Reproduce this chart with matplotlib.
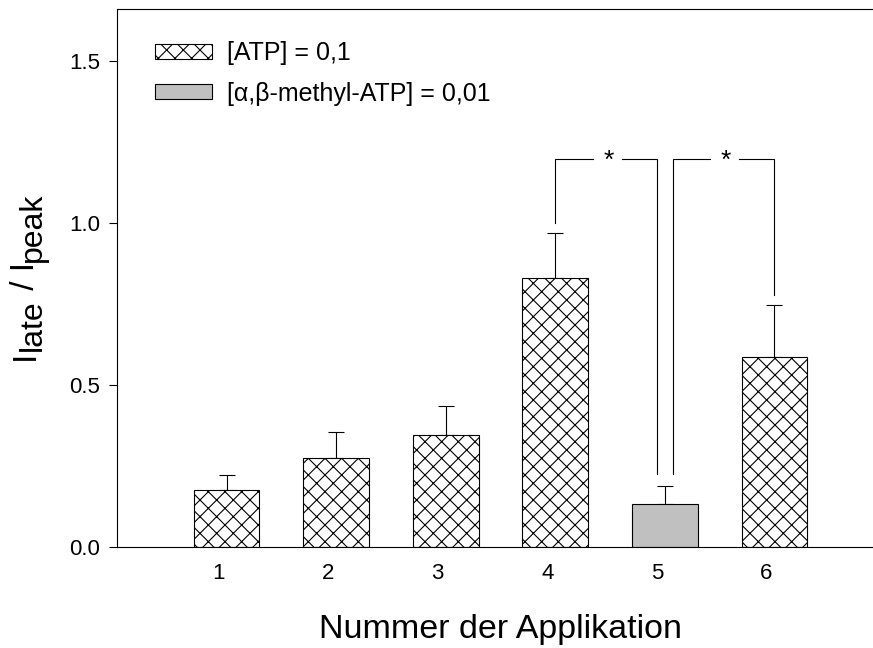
import matplotlib
matplotlib.use("Agg")
import matplotlib.pyplot as plt
import matplotlib.transforms as mtransforms
from matplotlib.patches import Patch

plt.rcParams['font.family'] = ['Liberation Sans', 'DejaVu Sans']
plt.rcParams['hatch.linewidth'] = 0.8

# mean and SEM per application
applikation = [1, 2, 3, 4, 5, 6]
mittelwert = [0.174, 0.274, 0.345, 0.830, 0.132, 0.586]
fehler = [0.047, 0.079, 0.088, 0.137, 0.056, 0.161]
agonist = ['ATP', 'ATP', 'ATP', 'ATP', 'ab', 'ATP']

# significance brackets: (x left, x right, y left leg end, y right leg end)
brackets = [(4.0, 4.93, 1.0, 0.223), (5.07, 6.0, 0.223, 0.777)]
bracket_top = 1.197

W, H, DPI = 873, 648, 100
fig = plt.figure(figsize=(W / DPI, H / DPI), dpi=DPI)
ax = fig.add_axes([0.134, 0.1563, 0.8786, 0.8298])

for x, m, e, a in zip(applikation, mittelwert, fehler, agonist):
    if a == 'ATP':
        ax.bar(x, m, width=0.6, facecolor='white', edgecolor='black',
               hatch='xx', linewidth=0.8, zorder=2)
    else:
        ax.bar(x, m, width=0.6, facecolor='#c0c0c0', edgecolor='black',
               linewidth=0.8, zorder=2)
    ax.errorbar(x, m, yerr=[[0], [e]], fmt='none', ecolor='black',
                elinewidth=0.8, capsize=5.8, capthick=0.8, zorder=1)

# brackets with a gap for the asterisk
for xl, xr, yl, yr in brackets:
    xm = (xl + xr) / 2
    ax.plot([xl, xl, xm - 0.12], [yl, bracket_top, bracket_top],
            color='black', lw=0.8, solid_joinstyle='miter')
    ax.plot([xm + 0.14, xr, xr], [bracket_top, bracket_top, yr],
            color='black', lw=0.8, solid_joinstyle='miter')
    ax.text(xm + 0.02, bracket_top - 0.006, '*', ha='center', va='center',
            fontsize=19)

ax.set_xlim(0, 7)
ax.set_ylim(0, 1.66)
ax.set_xticks(applikation)
ax.set_xticklabels([str(a) for a in applikation])
ax.set_yticks([0, 0.5, 1.0, 1.5])
ax.set_yticklabels(['0.0', '0.5', '1.0', '1.5'])
ax.tick_params(axis='x', length=0, pad=12, labelsize=16)
ax.tick_params(axis='y', direction='out', length=6, width=0.8, pad=6,
               labelsize=16)
shift = mtransforms.ScaledTranslation(-0.08, 0, fig.dpi_scale_trans)
for lab in ax.get_xticklabels():
    lab.set_transform(lab.get_transform() + shift)

ax.spines['right'].set_visible(False)
for s in ['left', 'bottom', 'top']:
    ax.spines[s].set_linewidth(0.8)

ax.set_xlabel('Nummer der Applikation', fontsize=24.5, labelpad=21)

# y label built from pieces so the subscripts keep nearly full size
renderer = fig.canvas.get_renderer()
pieces = [('I', 24, 0), ('late', 23, 7), (' / I', 24, 0), ('peak', 23, 7)]
base_x, pos_y = 34, H - 360
for s, size, dx in pieces:
    t = fig.text((base_x + dx) / W, pos_y / H, s, fontsize=size,
                 rotation=90, rotation_mode='anchor', ha='left',
                 va='baseline')
    pos_y = t.get_window_extent(renderer).y1

handles = [Patch(facecolor='white', edgecolor='black', hatch='xx', linewidth=0.8),
           Patch(facecolor='#c0c0c0', edgecolor='black', linewidth=0.8)]
ax.legend(handles, ['[ATP] = 0,1', '[\u03b1,\u03b2-methyl-ATP] = 0,01'],
          loc='upper left', bbox_to_anchor=(0.05, 0.94), frameon=False,
          borderpad=0, borderaxespad=0, fontsize=18, handlelength=2.28,
          handleheight=0.52, handletextpad=0.6, labelspacing=0.65)

fig.savefig('out.png', dpi=DPI)
